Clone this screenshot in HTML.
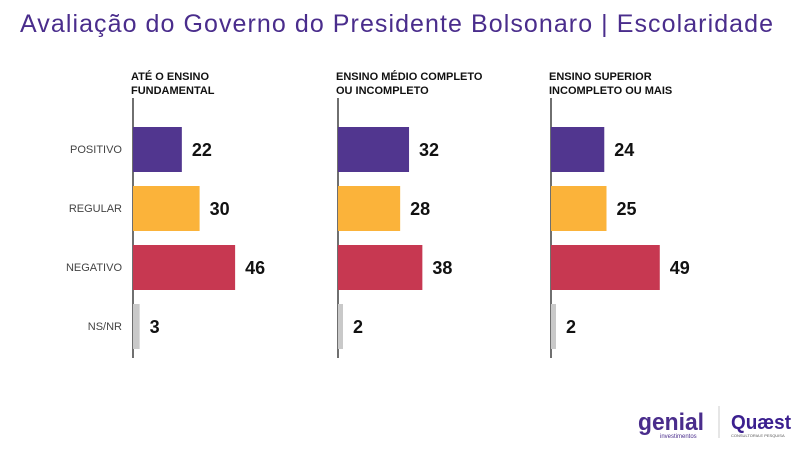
<!DOCTYPE html>
<html><head><meta charset="utf-8"><style>
body{margin:0;width:798px;height:444px;background:#fff;overflow:hidden;font-family:"Liberation Sans",sans-serif}
</style></head><body>
<svg width="798" height="444">
<text x="20" y="32" font-size="25" textLength="753" lengthAdjust="spacing" fill="#4a2d8c">Avaliação do Governo do Presidente Bolsonaro | Escolaridade</text>
<g id="panels"></g>
<g>
<text x="638" y="430" font-size="24" font-weight="bold" fill="#4a2d8c" textLength="66" lengthAdjust="spacingAndGlyphs">genial</text>
<text x="660" y="438" font-size="6" fill="#4a2d8c">investimentos</text>
</g>
<line x1="719" y1="406" x2="719" y2="438" stroke="#ccc"/>
<g>
<text x="731" y="429" font-size="20" font-weight="bold" fill="#3b1f8f" textLength="60" lengthAdjust="spacingAndGlyphs">Quæst</text>
<text x="731" y="437" font-size="4" fill="#555">CONSULTORIA E PESQUISA</text>
</g>
</svg>
<script>
const categories=["POSITIVO","REGULAR","NEGATIVO","NS/NR"];
const groups=["ATÉ O ENSINO|FUNDAMENTAL","ENSINO MÉDIO COMPLETO|OU INCOMPLETO","ENSINO SUPERIOR|INCOMPLETO OU MAIS"];
const valuesFundamental=[22,30,46,3];
const valuesMedio=[32,28,38,2];
const valuesSuperior=[24,25,49,2];
const series=[valuesFundamental,valuesMedio,valuesSuperior];
const colors=["#51368f","#fbb33a","#c73851","#c9c9c9"];
const ns="http://www.w3.org/2000/svg";
const axisX=[133,338,551];
const scale=v=>v*2.22;
const rowY=i=>127+i*59;
const g=document.getElementById('panels');
function mk(t,a){const e=document.createElementNS(ns,t);for(const k in a)e.setAttribute(k,a[k]);g.appendChild(e);return e;}
categories.forEach((c,i)=>{
  const t=mk('text',{x:122,y:rowY(i)+26,'font-size':11,fill:'#444','text-anchor':'end'});
  t.textContent=c;
  
  
});
series.forEach((vals,p)=>{
  const x0=axisX[p];
  const lines=groups[p].split('|');
  lines.forEach((l,k)=>{
    const t=mk('text',{x:x0-2,y:80+k*14,'font-size':11,'font-weight':'bold',fill:'#111'});
    t.textContent=l;
    
    
  });
  const ax=mk('line',{x1:x0,y1:98,x2:x0,y2:358,stroke:'#222','stroke-width':1.3});
  
  
  vals.forEach((v,i)=>{
    const w=Math.max(scale(v),5);
    const r=mk('rect',{x:x0,y:rowY(i),width:w,height:45,fill:colors[i]});
    
    
    const t=mk('text',{x:x0+w+10,y:rowY(i)+29,'font-size':18,'font-weight':'bold',fill:'#111'});
    t.textContent=v;
    
    
  });
});
</script>
</body></html>
